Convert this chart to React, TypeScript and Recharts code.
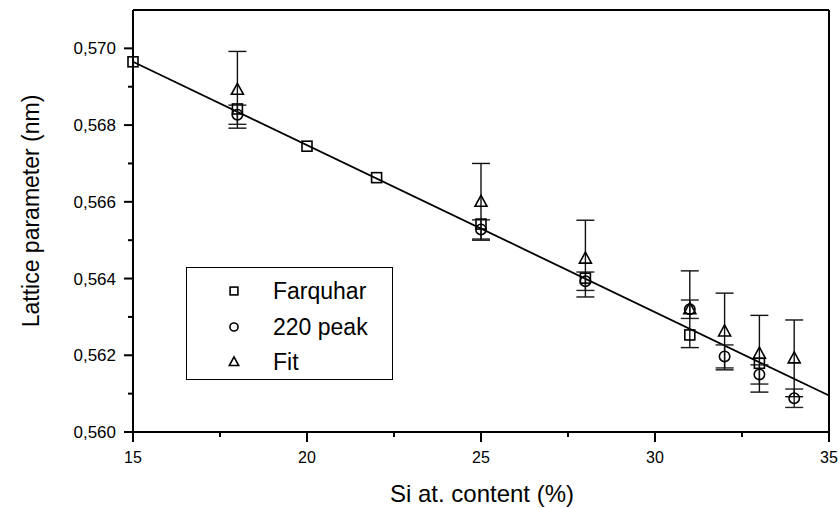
import {
  ComposedChart,
  Scatter,
  Line,
  XAxis,
  YAxis,
  ErrorBar,
  ReferenceLine,
  Legend,
  Label,
} from "recharts";

// Farquhar (squares)
const farquharX = [15, 18, 20, 22, 25, 28, 31, 33];
const farquharY = [0.56965, 0.56842, 0.56745, 0.56663, 0.56542, 0.56401, 0.56253, 0.56179];

// 220 peak (circles)
const peakX = [18, 25, 28, 31, 32, 33, 34];
const peakY = [0.56827, 0.56528, 0.56393, 0.5632, 0.56197, 0.5615, 0.56088];
const peakErr = [0.00025, 0.00025, 0.00024, 0.00024, 0.0003, 0.00025, 0.00024];

// Fit (triangles)
const fitX = [18, 25, 28, 31, 32, 33, 34];
const fitY = [0.56892, 0.566, 0.56452, 0.5632, 0.56262, 0.56204, 0.56192];
const fitErr = [0.001, 0.001, 0.001, 0.001, 0.001, 0.001, 0.001];

// linear fit line, end points
const lineX = [15, 35];
const lineY = [0.56965, 0.56095];

const xTicks = [15, 17.5, 20, 22.5, 25, 27.5, 30, 32.5, 35];
const yTicks = [0.56, 0.561, 0.562, 0.563, 0.564, 0.565, 0.566, 0.567, 0.568, 0.569, 0.57];

const FONT = '"Liberation Sans", Arial, Helvetica, sans-serif';

const farquharData = farquharX.map((x, i) => ({ x, y: farquharY[i] }));
const peakData = peakX.map((x, i) => ({ x, y: peakY[i], err: peakErr[i] }));
const fitData = fitX.map((x, i) => ({ x, y: fitY[i], err: fitErr[i] }));
const lineData = lineX.map((x, i) => ({ x, y: lineY[i] }));

// s = scale of the marker (1 in the plot, smaller in the legend)
const Square = (p: any) => {
  const h = 5 * (p.s ?? 1);
  return <rect x={p.cx - h} y={p.cy - h} width={2 * h} height={2 * h} fill="none" stroke="#000" strokeWidth={1.6} />;
};
const Circle = (p: any) => (
  <circle cx={p.cx} cy={p.cy} r={5.2 * (p.s ?? 1)} fill="none" stroke="#000" strokeWidth={1.6} />
);
const Triangle = (p: any) => {
  const s = p.s ?? 1;
  return (
    <path
      d={`M${p.cx},${p.cy - 6.5 * s} L${p.cx + 6 * s},${p.cy + 4.5 * s} L${p.cx - 6 * s},${p.cy + 4.5 * s} Z`}
      fill="none"
      stroke="#000"
      strokeWidth={1.6}
    />
  );
};

function XTick(props: any) {
  const { x, y, payload } = props;
  const v = payload.value;
  const major = Math.abs(v % 5) < 1e-9;
  return (
    <g>
      <line x1={x} x2={x} y1={y} y2={y + (major ? 10 : 5)} stroke="#000" strokeWidth={2} />
      {major && (
        <text x={x} y={y + 31} textAnchor="middle" fontSize={16} fontFamily={FONT} fill="#000">
          {v}
        </text>
      )}
    </g>
  );
}

function YTick(props: any) {
  const { x, y, payload } = props;
  const v = payload.value;
  const major = Math.round(v * 1000) % 2 === 0;
  return (
    <g>
      <line x1={x} x2={x - (major ? 9 : 5)} y1={y} y2={y} stroke="#000" strokeWidth={2} />
      {major && (
        <text x={x - 17} y={y + 6} textAnchor="end" fontSize={17} fontFamily={FONT} fill="#000">
          {v.toFixed(3).replace(".", ",")}
        </text>
      )}
    </g>
  );
}

const legendItems = [
  { name: "Farquhar", Icon: Square },
  { name: "220 peak", Icon: Circle },
  { name: "Fit", Icon: Triangle },
];

function LegendBox() {
  return (
    <div
      style={{
        position: "relative",
        width: 207,
        height: 113,
        border: "1.5px solid #000",
        boxSizing: "border-box",
        background: "#fff",
        fontFamily: FONT,
      }}
    >
      {legendItems.map((it, i) => (
        <div
          key={it.name}
          style={{ position: "absolute", left: 0, top: 23 + i * 35.5 - 15, height: 30, display: "flex", alignItems: "center" }}
        >
          <svg width={20} height={20} style={{ position: "absolute", left: 37 }}>
            <it.Icon cx={10} cy={10} s={0.78} />
          </svg>
          <span style={{ position: "absolute", left: 86, fontSize: 23, lineHeight: "30px", whiteSpace: "nowrap" }}>
            {it.name}
          </span>
        </div>
      ))}
    </div>
  );
}

export default function App() {
  return (
    <div style={{ position: "absolute", left: 0, top: 0, width: 839, height: 508, background: "#fff" }}>
      <ComposedChart width={839} height={508} margin={{ top: 10, right: 10, left: 0, bottom: 0 }}>
        <XAxis
          type="number"
          dataKey="x"
          domain={[15, 35]}
          ticks={xTicks}
          interval={0}
          tickLine={false}
          tickSize={0}
          tickMargin={0}
          height={76}
          axisLine={{ stroke: "#000", strokeWidth: 2 }}
          tick={<XTick />}
        >
          <Label
            content={({ viewBox }: any) => (
              <text
                x={viewBox.x + viewBox.width / 2 + 1}
                y={viewBox.y + 70}
                textAnchor="middle"
                fontSize={24}
                fontFamily={FONT}
                fill="#000"
              >
                Si at. content (%)
              </text>
            )}
          />
        </XAxis>
        <YAxis
          type="number"
          dataKey="y"
          domain={[0.56, 0.571]}
          ticks={yTicks}
          interval={0}
          allowDataOverflow
          tickLine={false}
          tickSize={0}
          tickMargin={0}
          width={133}
          axisLine={{ stroke: "#000", strokeWidth: 2 }}
          tick={<YTick />}
        >
          <Label
            content={({ viewBox }: any) => {
              const cx = viewBox.x + 39;
              const cy = viewBox.y + viewBox.height / 2 - 10;
              return (
                <text
                  x={cx}
                  y={cy}
                  transform={`rotate(-90 ${cx} ${cy})`}
                  textAnchor="middle"
                  fontSize={23}
                  fontFamily={FONT}
                  fill="#000"
                >
                  Lattice parameter (nm)
                </text>
              );
            }}
          />
        </YAxis>
        <ReferenceLine y={0.571} stroke="#000" strokeWidth={2} ifOverflow="visible" />
        <ReferenceLine x={35} stroke="#000" strokeWidth={2} ifOverflow="visible" />
        <Line
          data={lineData}
          dataKey="y"
          type="linear"
          dot={false}
          activeDot={false}
          stroke="#000"
          strokeWidth={1.8}
          isAnimationActive={false}
          legendType="none"
        />
        <Scatter name="Farquhar" data={farquharData} shape={<Square />} isAnimationActive={false} />
        <Scatter name="220 peak" data={peakData} shape={<Circle />} isAnimationActive={false}>
          <ErrorBar dataKey="err" direction="y" width={9} stroke="#222" strokeWidth={1.4} isAnimationActive={false} />
        </Scatter>
        <Scatter name="Fit" data={fitData} shape={<Triangle />} isAnimationActive={false}>
          <ErrorBar dataKey="err" direction="y" width={9} stroke="#111" strokeWidth={1.4} isAnimationActive={false} />
        </Scatter>
        <Legend
          layout="vertical"
          align="center"
          verticalAlign="middle"
          wrapperStyle={{ left: 186, top: 267, width: 207, height: 113 }}
          content={() => <LegendBox />}
        />
      </ComposedChart>
    </div>
  );
}
